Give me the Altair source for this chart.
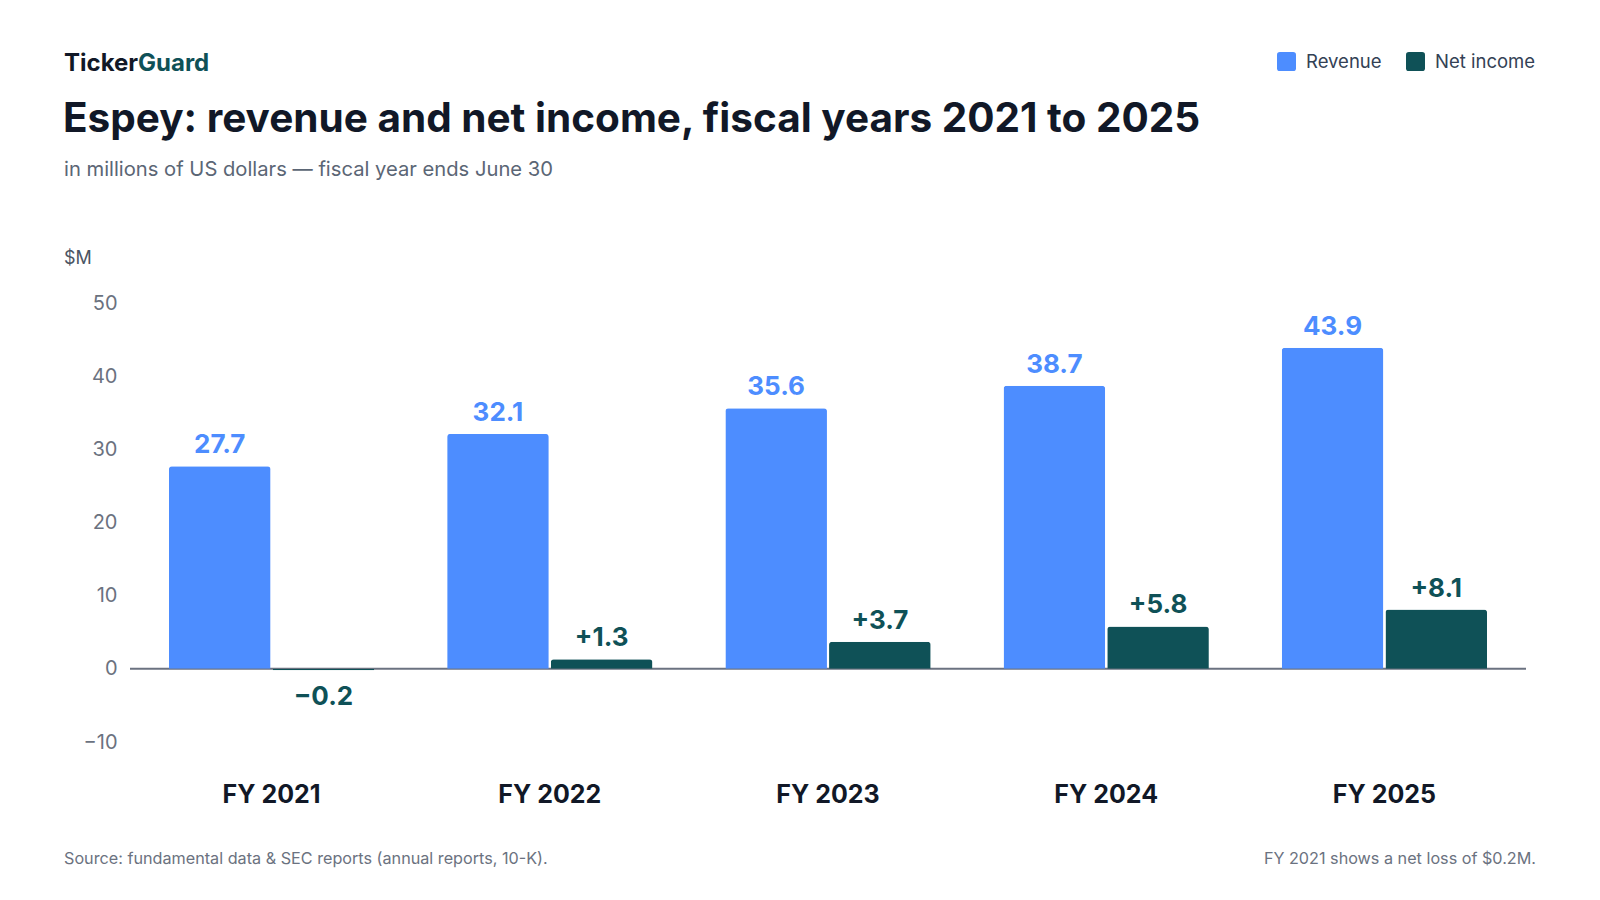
import altair as alt
import pandas as pd

years = ["FY 2021", "FY 2022", "FY 2023", "FY 2024", "FY 2025"]
revenue = [27.7, 32.1, 35.6, 38.7, 43.9]
net_income = [-0.2, 1.3, 3.7, 5.8, 8.1]
series = ["Revenue", "Net income"]
colors = ["#4d8dff", "#0f5157"]
y_ticks = [-10, 0, 10, 20, 30, 40, 50]

brand_a = "Ticker"
brand_b = "Guard"
title = "Espey: revenue and net income, fiscal years 2021 to 2025"
subtitle = "in millions of US dollars \u2014 fiscal year ends June 30"
unit = "$M"
source = "Source: fundamental data & SEC reports (annual reports, 10-K)."
note = "FY 2021 shows a net loss of $0.2M."

rows = []
for i, yr in enumerate(years):
    rows.append(dict(year=yr, series="Revenue", value=revenue[i], label=f"{revenue[i]:.1f}"))
    v = net_income[i]
    rows.append(dict(year=yr, series="Net income", value=v,
                     label=f"{v:+.1f}".replace("-", "\u2212")))
df = pd.DataFrame(rows)

FONT = "Inter"
LEFT, TOP = 130, 303
W, H = 1396, 439

ROUNDED_SQ = ("M-0.7,-1 L0.7,-1 Q1,-1 1,-0.7 L1,0.7 Q1,1 0.7,1 L-0.7,1 "
              "Q-1,1 -1,0.7 L-1,-0.7 Q-1,-1 -0.7,-1 Z")

x_enc = alt.X("year:N", sort=years, title=None,
              scale=alt.Scale(domain=years, paddingInner=0.262, paddingOuter=0.14),
              axis=alt.Axis(labelFont=FONT, labelFontSize=25, labelFontWeight="bold",
                            labelColor="#111827", ticks=False, domain=False,
                            labelPadding=40, labelAngle=0, grid=False))
xo_enc = alt.XOffset("series:N", sort=series,
                     scale=alt.Scale(domain=series, paddingInner=0.02, paddingOuter=0))
y_enc = alt.Y("value:Q", title=None,
              scale=alt.Scale(domain=[-10, 50], nice=False, zero=False),
              axis=alt.Axis(values=y_ticks, labelFont=FONT, labelFontSize=20,
                            labelColor="#6b7280", ticks=False, domain=False,
                            gridColor="#e5e7eb", gridWidth=1.5, labelPadding=13))

base = alt.Chart(df)

bars = base.mark_bar(cornerRadiusEnd=3).encode(
    x=x_enc, xOffset=xo_enc, y=y_enc,
    color=alt.Color("series:N", sort=series,
                    scale=alt.Scale(domain=series, range=colors),
                    legend=alt.Legend(title=None, orient="none", direction="horizontal",
                                      legendX=1277 - LEFT, legendY=-251,
                                      labelFont=FONT, labelFontSize=18.5,
                                      labelColor="#334155", symbolType=ROUNDED_SQ,
                                      symbolSize=361, symbolStrokeWidth=0,
                                      symbolOpacity=1, labelOffset=10,
                                      columnPadding=24, padding=0)),
)

zero = alt.Chart(pd.DataFrame({"z": [0]})).mark_rule(color="#6b7280", strokeWidth=2).encode(
    y=alt.datum(0)
)

txt_style = dict(font=FONT, fontSize=26, fontWeight="bold")
rev_lbl = base.transform_filter(alt.datum.series == "Revenue").mark_text(
    baseline="alphabetic", dy=-13, color=colors[0], **txt_style
).encode(x=x_enc, xOffset=xo_enc, y=y_enc, text="label:N")
ni_pos = base.transform_filter(
    (alt.datum.series == "Net income") & (alt.datum.value >= 0)
).mark_text(baseline="alphabetic", dy=-13, color=colors[1], **txt_style).encode(
    x=x_enc, xOffset=xo_enc, y=y_enc, text="label:N")
ni_neg = base.transform_filter(
    (alt.datum.series == "Net income") & (alt.datum.value < 0)
).mark_text(baseline="top", dy=14, color=colors[1], **txt_style).encode(
    x=x_enc, xOffset=xo_enc, y=y_enc, text="label:N")

one = pd.DataFrame({"k": [0]})


def note_text(s, xv, yv, size, color, weight="normal", align="left"):
    return alt.Chart(one).mark_text(
        font=FONT, fontSize=size, fontWeight=weight, color=color,
        align=align, baseline="alphabetic"
    ).encode(x=alt.value(xv), y=alt.value(yv), text=alt.value(s))


hdr = [
    note_text(brand_a, 64 - LEFT, 71 - TOP, 24, "#111827", "bold"),
    note_text(brand_b, 138 - LEFT, 71 - TOP, 24, "#0f5157", "bold"),
    note_text(title, 63 - LEFT, 132 - TOP, 40.5, "#111827", "bold"),
    note_text(subtitle, 64 - LEFT, 176 - TOP, 20.2, "#5b6675"),
    note_text(unit, 64 - LEFT, 264 - TOP, 18, "#4b5563"),
    note_text(source, 64 - LEFT, 864 - TOP, 16.2, "#6b7280"),
    note_text(note, 1536 - LEFT, 864 - TOP, 16.2, "#6b7280", align="right"),
]

chart = alt.layer(zero, bars, rev_lbl, ni_pos, ni_neg, *hdr).properties(
    width=W, height=H,
    autosize=alt.AutoSizeParams(type="none"),
    padding={"left": LEFT - 8, "top": TOP - 8, "right": 1584 - (LEFT - 8) - W,
             "bottom": 884 - (TOP - 8) - H},
    background="white",
).configure_view(stroke=None)

chart.save("out.html", embed_options={"renderer": "svg", "actions": False})
